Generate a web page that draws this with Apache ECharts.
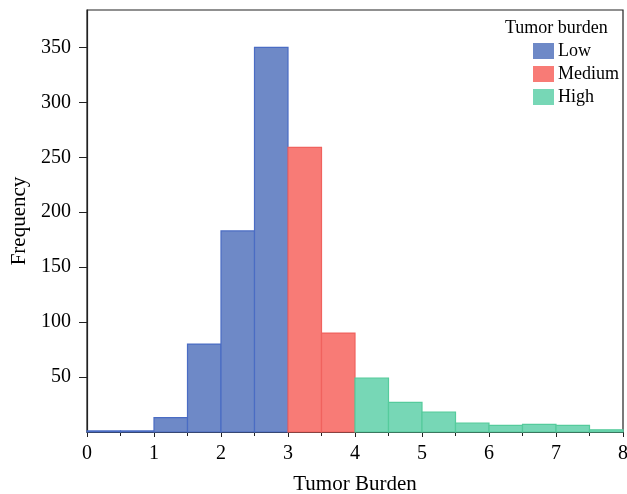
<!DOCTYPE html>
<html><head><meta charset="utf-8">
<script src="https://cdn.jsdelivr.net/npm/echarts@6/dist/echarts.min.js"></script>
<style>html,body{margin:0;padding:0;background:#fff}#c{width:627px;height:494px}</style>
</head><body><div id="c"></div>
<script>
const binStarts = [0,0.5,1,1.5,2,2.5,3,3.5,4,4.5,5,5.5,6,6.5,7,7.5];
const counts    = [1,1,13,80,183,350,259,90,49,27,18,8,6,7,6,2];
const groups    = ['Low','Low','Low','Low','Low','Low','Medium','Medium','High','High','High','High','High','High','High','High'];
const binWidth = 0.5;
const groupNames = ['Low','Medium','High'];
const fills   = {Low:'#6E89C7', Medium:'#F87B76', High:'#77D7B6'};
const borders = {Low:'#4A6CC4', Medium:'#F0625E', High:'#55CB9C'};
const xTicks = [0,1,2,3,4,5,6,7,8];
const yTicks = [50,100,150,200,250,300,350];

const FONT = 'Liberation Serif';
const chart = echarts.init(document.getElementById('c'));
const series = groupNames.map(g => ({
  name: g,
  type: 'custom',
  itemStyle: {color: fills[g], borderColor: borders[g]},
  renderItem: function(params, api){
    const x0 = api.value(0), x1 = api.value(1), y = api.value(2);
    const p0 = api.coord([x0, y]);
    const p1 = api.coord([x1, 0]);
    return {type:'rect', shape:{x:p0[0], y:p0[1], width:p1[0]-p0[0], height:p1[1]-p0[1]},
      style:{fill: fills[g], stroke: borders[g], lineWidth: 1.2}};
  },
  encode:{x:[0,1], y:2},
  data: binStarts.map((s,i)=>[s, s+binWidth, counts[i], groups[i]]).filter(d=>d[3]===g)
}));
chart.setOption({
  animation:false,
  textStyle:{fontFamily:FONT},
  grid:{left:87, right:4, top:10, bottom:62, containLabel:false, outerBoundsMode:'none', show:true, borderColor:'#222', borderWidth:1.2},
  title:{text:'Tumor burden', left:505, top:19, padding:0, textStyle:{fontFamily:FONT, fontSize:18, fontWeight:'normal', color:'#000'}},
  legend:{data:groupNames, orient:'vertical', left:533, top:42, padding:0, itemWidth:21, itemHeight:16, itemGap:5,
    textStyle:{fontFamily:FONT, fontSize:18, color:'#000', padding:[0,0,0,-1]},
    icon:'rect'},
  xAxis:{type:'value', min:0, max:8, interval:1,
    name:'Tumor Burden', nameLocation:'middle', nameGap:42,
    nameTextStyle:{fontFamily:FONT, fontSize:21, color:'#000'},
    axisLine:{show:true, lineStyle:{color:'#222', width:1.2}},
    axisTick:{show:true, length:5, lineStyle:{color:'#222'}},
    minorTick:{show:true, splitNumber:2, length:4, lineStyle:{color:'#222'}},
    splitLine:{show:false},
    axisLabel:{fontFamily:FONT, fontSize:20, color:'#000', margin:12, formatter:v=>xTicks.includes(v)?String(v):''}},
  yAxis:{type:'value', min:0, max:384, interval:50,
    name:'Frequency', nameLocation:'middle', nameGap:57,
    nameTextStyle:{fontFamily:FONT, fontSize:21, color:'#000'},
    axisLine:{show:true, lineStyle:{color:'#222', width:1.2}},
    axisTick:{show:true, length:8, lineStyle:{color:'#222'}, customValues: yTicks},
    splitLine:{show:false},
    axisLabel:{fontFamily:FONT, fontSize:20, color:'#000', margin:16, customValues: yTicks}},
  series: series
});
</script></body></html>
